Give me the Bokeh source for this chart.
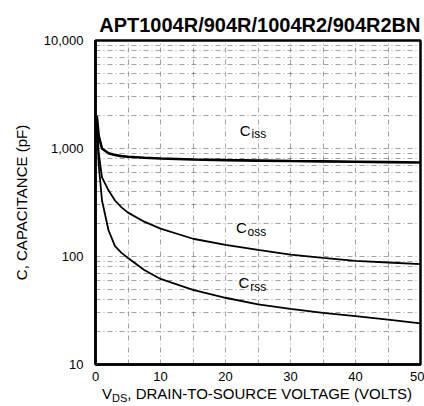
from bokeh.plotting import figure
from bokeh.models import FixedTicker, NumeralTickFormatter, Range1d, Div
from bokeh.layouts import column
from bokeh.core.properties import value
from bokeh.embed import file_html
from bokeh.resources import INLINE

# ---- data ----
vds = [0.2, 0.5, 1, 2, 3, 4, 5, 7.5, 10, 15, 20, 25, 30, 35, 40, 45, 50]
ciss = [2000, 1300, 1000, 905, 870, 850, 840, 820, 807, 790, 780, 772, 765, 760, 755, 748, 741]
coss = [1800, 900, 540, 410, 330, 285, 255, 210, 181, 146, 128, 115, 104, 97, 91, 88, 85]
crss = [1700, 700, 330, 175, 125, 108, 97, 75, 62, 49, 41.5, 36, 32.7, 30, 28, 26, 24]

x_ticks = [0, 10, 20, 30, 40, 50]
x_grid = [5, 10, 15, 20, 25, 30, 35, 40, 45]
y_ticks = [10, 100, 1000, 10000]
y_grid = [m * d for d in (10, 100, 1000) for m in range(1, 10)] + [10000]

title_text = "APT1004R/904R/1004R2/904R2BN"
y_label = "C, CAPACITANCE (pF)"
x_label_main = "V"
x_label_sub = "DS"
x_label_rest = ", DRAIN-TO-SOURCE VOLTAGE (VOLTS)"

curve_labels = [
    # (main, subscript, x, y_main, y_sub)
    ("C", "iss", 22.2, 1470, 1370),
    ("C", "oss", 21.6, 186, 168),
    ("C", "rss", 22.0, 57, 52),
]

FONT = "Liberation Sans"
W = 424
FIG_H = 386
DIV_H = 20

p = figure(width=W, height=FIG_H, x_axis_type="linear", y_axis_type="log",
           x_range=Range1d(0, 50), y_range=Range1d(10, 10000),
           output_backend="svg", toolbar_location=None,
           min_border_left=95, min_border_right=4, min_border_top=40, min_border_bottom=22)

p.title.text = title_text
p.title.align = "right"
p.title.text_font = FONT
p.title.text_font_size = "20px"
p.title.text_font_style = "bold"
p.title.text_color = "black"

p.outline_line_color = "black"
p.outline_line_width = 2.5

# axes
p.xaxis.ticker = FixedTicker(ticks=x_ticks)
p.yaxis.ticker = FixedTicker(ticks=y_ticks)
p.yaxis.formatter = NumeralTickFormatter(format="0,0")
for ax in (p.xaxis[0], p.yaxis[0]):
    ax.axis_line_color = "black"
    ax.axis_line_width = 2.5
    ax.major_tick_out = 0
    ax.major_tick_in = 0
    ax.minor_tick_out = 0
    ax.minor_tick_in = 0
    ax.major_label_text_font = FONT
    ax.major_label_text_font_size = "13px"
    ax.major_label_text_color = "black"
    ax.axis_label_text_font = FONT
    ax.axis_label_text_font_size = "15px"
    ax.axis_label_text_font_style = "normal"
    ax.axis_label_text_color = "black"
p.yaxis.major_label_standoff = 12
p.yaxis.axis_label = y_label
p.yaxis.axis_label_standoff = 11
p.xaxis.major_label_standoff = 7

# grid
p.xgrid.ticker = FixedTicker(ticks=x_grid)
p.ygrid.ticker = FixedTicker(ticks=y_grid)
for g in (p.xgrid[0], p.ygrid[0]):
    g.grid_line_color = "#333333"
    g.grid_line_alpha = 0.45
    g.grid_line_dash = "5 3 1 3"
    g.grid_line_width = 1

# curves
p.line(vds, ciss, line_color="black", line_width=2.6)
p.line(vds, coss, line_color="black", line_width=1.8)
p.line(vds, crss, line_color="black", line_width=1.8)

for main, sub, x, ym, ys in curve_labels:
    p.text(x=[x], y=[ym], text=[main], text_font=value(FONT), text_font_size="15px",
           text_baseline="middle", text_align="left", text_color="black")
    p.text(x=[x + 1.8], y=[ys], text=[sub], text_font=value(FONT), text_font_size="12px",
           text_baseline="middle", text_align="left", text_color="black")

# x-axis title with subscript, below the figure
x_title = Div(
    text=(f'<div style="font-family:\'{FONT}\';font-size:15px;line-height:14px;'
          f'white-space:nowrap;color:black;padding-left:102px;padding-top:1px;">'
          f'{x_label_main}<span style="font-size:11px;position:relative;top:3px;">{x_label_sub}</span>'
          f'{x_label_rest}</div>'),
    width=W, height=DIV_H, margin=(0, 0, 0, 0),
)

layout = column(p, x_title, spacing=0)
open("out.html", "w").write(file_html(layout, INLINE))
